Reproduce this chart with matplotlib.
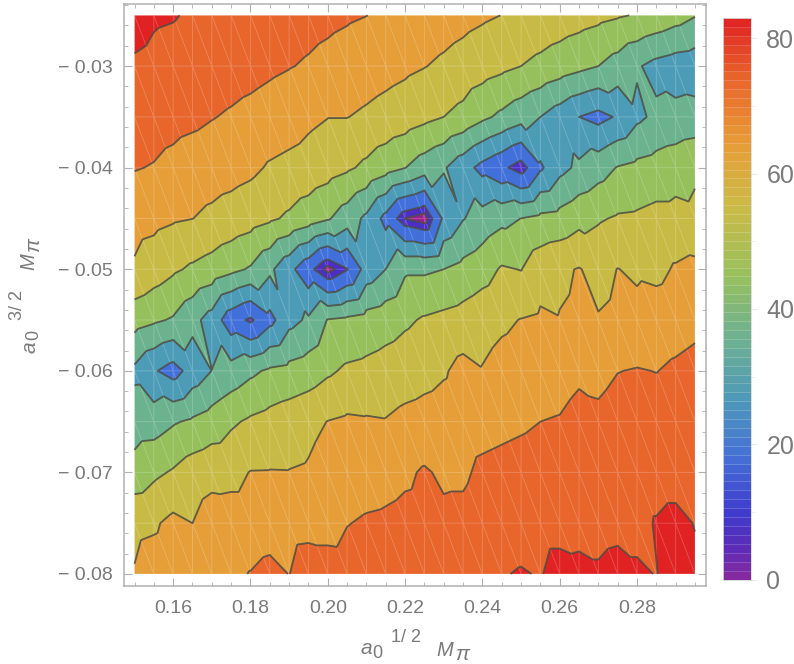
import numpy as np
import matplotlib
matplotlib.use('Agg')
import matplotlib.pyplot as plt
import matplotlib.tri as mtri
from matplotlib.colors import LinearSegmentedColormap

plt.rcParams['font.family'] = ['Liberation Sans', 'DejaVu Sans']

# grid of the scan
a12 = [0.15, 0.155, 0.16, 0.165, 0.17, 0.175, 0.18, 0.185, 0.19, 0.195,
       0.2, 0.205, 0.21, 0.215, 0.22, 0.225, 0.23, 0.235, 0.24, 0.245,
       0.25, 0.255, 0.26, 0.265, 0.27, 0.275, 0.28, 0.285, 0.29, 0.295]
a32 = [-0.08, -0.075, -0.07, -0.065, -0.06, -0.055, -0.05, -0.045, -0.04, -0.035, -0.03, -0.025]

# values, one list per a32 row
r080 = [60.5, 64, 65, 66, 67, 68, 70.4, 73, 69.8, 75.5, 74.5, 74, 75, 75, 76, 76, 76.5, 77, 77.5, 79.5, 80.6, 79.5, 83, 82, 81, 82.5, 81, 79.8, 83, 81.5]
r075 = [58, 58.8, 62.4, 60, 64.5, 64, 64, 65, 66, 66.5, 66.5, 69.7, 71, 71.5, 72.5, 73, 72, 72.5, 75, 76, 76.5, 77, 77, 77.5, 77.5, 78, 78, 80.5, 82, 79.7]
r070 = [44, 48, 51, 55, 57, 57.5, 60.3, 60.4, 60.3, 61, 64, 65, 66, 67, 68.5, 71, 68.5, 68.5, 72, 73, 74, 75, 76, 76.5, 77, 77, 77, 77, 77, 77]
r065 = [35, 35.5, 39, 41.5, 44.5, 48.5, 51.5, 53.5, 55.5, 57.5, 60.2, 61.5, 61, 60.5, 62.5, 63.5, 64.5, 65.5, 66.5, 67.5, 68.5, 70, 70.7, 73.6, 72, 74, 74.5, 75, 75, 75]
r060 = [28, 21, 16, 24, 30.1, 34, 38, 41.5, 43, 45, 48.5, 51.5, 52.5, 54, 55.5, 57, 59, 63, 60.5, 63, 64, 65, 65.5, 68, 67.5, 69.8, 70.5, 69.8, 71.5, 73]
r055 = [44, 41.5, 39, 33, 26, 14, 8.5, 17, 27, 31.5, 40.5, 42, 44, 46, 48.5, 51, 52.5, 54, 56.5, 58.5, 60.3, 61.5, 60.4, 61.5, 60.6, 62, 63, 65, 66, 67.5]
r050 = [58.8, 55, 51.5, 48.5, 46, 42.5, 39, 32, 23, 13, 2.5, 9.5, 24, 30, 38.5, 38.5, 40, 43, 46, 51, 49.7, 56, 58.5, 60.5, 57, 60.2, 58.5, 57.5, 61, 62.7]
r045 = [63.5, 62.5, 61, 60.1, 58, 56, 54, 51.5, 48.5, 45, 41, 35, 28, 17, 4.8, 1.5, 22, 29.5, 34, 37.5, 40.1, 42.4, 43.5, 47, 49, 51, 51.5, 53, 53, 52]
r040 = [70.5, 69.5, 67.5, 65.5, 64.5, 63.5, 62, 59, 57.5, 56, 54, 51.5, 48, 44, 40.2, 35, 31, 24, 17, 12, 6, 18.5, 27, 32, 36, 40.5, 42.5, 44, 46, 48.6]
r035 = [75, 74, 73, 72, 70.4, 69, 67.5, 66, 64.5, 62, 60.2, 60.2, 58.5, 56.7, 55, 52.5, 50, 47, 42, 38, 34, 30, 25, 20, 17, 21, 28, 32, 33, 34]
r030 = [79, 78, 77, 76, 75, 74, 73, 71.6, 70.4, 69.1, 67.6, 66.2, 64.7, 63.2, 61.8, 60.3, 58.4, 56.4, 54.2, 52.2, 50, 47.5, 45, 42.5, 40, 36, 31, 27, 25, 24]
r025 = [83, 81, 80.5, 79, 78, 77, 76, 75, 74, 73, 72, 71, 70.1, 68.7, 67.2, 65.7, 64.3, 62.8, 61.3, 59.9, 58.4, 56.9, 55.4, 53.9, 52.4, 50.9, 49.4, 47, 44, 40.5]

levels = [0, 5, 10, 20, 30, 40, 50, 60, 70, 80, 90]
band_colors = ['#9a2090', '#4a2ec6', '#4170da', '#4c9cb8', '#6bb28e',
               '#95c05c', '#c8bb45', '#e59e38', '#e8652b', '#e02222']

xticks = [0.16, 0.18, 0.20, 0.22, 0.24, 0.26, 0.28]
yticks = [-0.08, -0.07, -0.06, -0.05, -0.04, -0.03]
cb_ticks = [0, 20, 40, 60, 80]
gray = '#7a7a7a'

z = np.array([r080, r075, r070, r065, r060, r055, r050, r045, r040, r035, r030, r025])
nx, ny = len(a12), len(a32)
X, Y = np.meshgrid(a12, a32)

# triangles with the diagonal running down to the right, like the mesh in the plot
tris = []
for j in range(ny - 1):
    for i in range(nx - 1):
        bl = j * nx + i
        br = bl + 1
        tl = bl + nx
        tr = tl + 1
        tris.append([bl, br, tl])
        tris.append([br, tr, tl])
mesh = mtri.Triangulation(X.ravel(), Y.ravel(), np.array(tris))

W, H = 794.0, 664.0
fig = plt.figure(figsize=(W / 100, H / 100), dpi=100)
ax = fig.add_axes([123.5 / W, 1 - 586 / H, (706 - 123.5) / W, (586 - 4) / H])

ax.tricontourf(mesh, z.ravel(), levels=levels, colors=band_colors, antialiased=True)
ax.triplot(mesh, color='white', lw=0.7, alpha=0.2)
ax.tricontour(mesh, z.ravel(), levels=levels[1:-1], colors='#4a4a40', linewidths=1.3, alpha=0.85)

ax.set_xlim(0.15 - 11 / 3865, 0.295 + 11 / 3865)
ax.set_ylim(-0.08 - 12 / 10130, -0.025 + 11.3 / 10130)

ax.set_xticks(xticks)
ax.set_xticklabels(['%.2f' % t for t in xticks])
ax.set_yticks(yticks)
ax.set_yticklabels(['\u2212 %.2f' % abs(t) for t in yticks])
ax.set_xticks(a12, minor=True)
ax.set_yticks(np.arange(-0.08, -0.0235, 0.002), minor=True)
ax.tick_params(which='major', direction='in', top=True, right=True, length=5.5, width=0.8,
               color='#b0b0b0', labelcolor=gray, labelsize=14, pad=8)
ax.tick_params(axis='x', which='major', pad=10)
ax.tick_params(which='minor', direction='in', top=True, right=True, length=3, width=0.7, color='#b8b8b8')
for s in ax.spines.values():
    s.set_color('#b0b0b0')
    s.set_linewidth(1.1)


# axis titles are put together from pieces, the superscript is nearly full size
def piece(px, py, s, size, style='normal', rot=0):
    fig.text(px / W, 1 - py / H, s, color=gray, fontsize=size, style=style,
             ha='center', va='center', rotation=rot)


piece(366, 649, 'a', 15, 'italic')
piece(377, 654, '0', 13)
piece(406, 638, '1/ 2', 13)
piece(445, 650, 'M', 14.5, 'italic')
piece(462, 654, '\u03c0', 15, 'italic')

piece(30, 347, 'a', 15, 'italic', 90)
piece(34, 335, '0', 13, 'normal', 90)
piece(18, 305, '3/ 2', 13, 'normal', 90)
piece(29, 262, 'M', 14.5, 'italic', 90)
piece(34, 245, '\u03c0', 15, 'italic', 90)

# colour bar with its fine stripes
cb_stops = [(0.0, '#8a2a9c'), (5 / 83, '#5a2cb8'), (10 / 83, '#3f3ccc'), (18 / 83, '#4470d6'),
            (27 / 83, '#4f9ab8'), (36 / 83, '#6fb290'), (45 / 83, '#97c05e'), (55 / 83, '#cbbb48'),
            (65 / 83, '#e89c38'), (74 / 83, '#e8662c'), (1.0, '#e02222')]
cb_cmap = LinearSegmentedColormap.from_list('cb', cb_stops)
cax = fig.add_axes([723 / W, 1 - 579.5 / H, 28 / W, (579.5 - 18) / H])
edges = np.linspace(0, 83, 64)
cax.pcolormesh([0, 1], edges, ((edges[:-1] + edges[1:]) / 2).reshape(-1, 1), cmap=cb_cmap,
               vmin=0, vmax=83, edgecolors=(1, 1, 1, 0.18), linewidth=0.5)
cax.set_xticks([])
cax.set_ylim(0, 83)
cax.yaxis.tick_right()
cax.set_yticks(cb_ticks)
cax.set_yticklabels([str(t) for t in cb_ticks])
cax.set_yticks(np.arange(0, 83, 10), minor=True)
cax.tick_params(which='major', length=4, width=0.6, color='#e4e4e4', labelcolor=gray, labelsize=18, pad=7)
cax.tick_params(which='minor', length=3, width=0.6, color='#ececec')
for s in cax.spines.values():
    s.set_color('#d8d8d8')
    s.set_linewidth(0.6)

fig.savefig('out.png', dpi=100)
